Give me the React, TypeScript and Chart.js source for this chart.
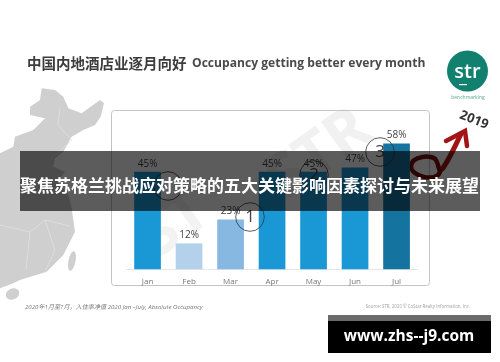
import React, { useEffect, useRef } from "react";
import { Chart, registerables } from "chart.js";

Chart.register(...registerables);

const categories = ["Jan", "Feb", "Mar", "Apr", "May", "Jun", "Jul"];
const occupancy = [45, 12, 23, 45, 45, 47, 58];
const barColors = ["#1a98d5", "#b4d1ec", "#86b8e2", "#1a98d5", "#1a98d5", "#1a98d5", "#14739f"];
const titleCn = "中国内地酒店业逐月向好";
const titleEn = "Occupancy getting better every month";
const banner = "聚焦苏格兰挑战应对策略的五大关键影响因素探讨与未来展望";
const footLeft = "2020年1月至7月，入住率净值 2020 Jan –July, Absolute Occupancy";
const footRight = "Source: STR, 2020 © CoStar Realty Information, Inc.";
const siteLabel = "www.zhs--j9.com";

const CJK = '"Noto Sans CJK SC"';

function poly(ctx: CanvasRenderingContext2D, pts: number[][]) {
  ctx.beginPath();
  pts.forEach((p, i) => (i ? ctx.lineTo(p[0], p[1]) : ctx.moveTo(p[0], p[1])));
  ctx.closePath();
}

function drawMap(ctx: CanvasRenderingContext2D) {
  const raw = [
    [125, 40], [165, 45], [190, 65], [205, 100], [245, 115], [300, 75], [312, 85], [302, 125], [285, 150],
    [250, 165], [215, 185], [190, 230], [165, 250], [160, 275], [195, 290], [172, 320], [205, 360], [215, 400],
    [225, 470], [190, 540], [140, 590], [60, 615], [40, 625], [0, 640], [0, 235], [40, 215], [45, 185],
    [100, 165], [135, 130], [90, 120], [90, 95], [120, 75],
  ].map((p) => [p[0] / 3, 75 + p[1] / 3]);
  ctx.fillStyle = "#cfcfcf";
  poly(ctx, raw);
  ctx.fill();
  ctx.beginPath();
  ctx.ellipse(12.5, 294, 7, 5.5, -0.4, 0, Math.PI * 2);
  ctx.fill();
  ctx.beginPath();
  ctx.ellipse(72, 261, 3.5, 10, 0.2, 0, Math.PI * 2);
  ctx.fill();
  ctx.strokeStyle = "#e2e2e2";
  ctx.lineWidth = 0.7;
  ctx.beginPath();
  ctx.moveTo(60, 108); ctx.lineTo(58, 125); ctx.lineTo(72, 140); ctx.lineTo(50, 160);
  ctx.moveTo(0, 225); ctx.lineTo(30, 232); ctx.lineTo(45, 220); ctx.lineTo(70, 226);
  ctx.moveTo(30, 232); ctx.lineTo(26, 270);
  ctx.moveTo(45, 220); ctx.lineTo(55, 250); ctx.lineTo(45, 272);
  ctx.stroke();
}

function drawWatermark(ctx: CanvasRenderingContext2D) {
  ctx.save();
  ctx.fillStyle = "#f1f1f1";
  ctx.font = 'bold 62px "Open Sans"';
  ctx.textAlign = "center";
  ctx.textBaseline = "middle";
  ctx.translate(320, 155);
  ctx.rotate(-0.62);
  ctx.fillText("STR", 0, 0);
  ctx.restore();
  ctx.save();
  ctx.fillStyle = "#f3f3f3";
  ctx.font = 'bold 62px "Open Sans"';
  ctx.textAlign = "center";
  ctx.textBaseline = "middle";
  ctx.translate(175, 225);
  ctx.rotate(-0.62);
  ctx.fillText("ST", 0, 0);
  ctx.restore();
}

function drawArrow(ctx: CanvasRenderingContext2D) {
  ctx.save();
  ctx.lineCap = "round";
  ctx.strokeStyle = "#7d0d0d";
  ctx.lineWidth = 4.5;
  ctx.beginPath();
  ctx.moveTo(440, 172);
  ctx.bezierCurveTo(436, 183, 410, 176, 411, 166);
  ctx.bezierCurveTo(412, 156, 432, 154, 436, 160);
  ctx.bezierCurveTo(440, 167, 438, 175, 443, 168);
  ctx.stroke();
  ctx.strokeStyle = "#a31414";
  ctx.lineWidth = 5;
  ctx.beginPath();
  ctx.moveTo(443, 168);
  ctx.bezierCurveTo(450, 158, 454, 148, 461, 134);
  ctx.stroke();
  ctx.lineWidth = 4.5;
  ctx.beginPath();
  ctx.moveTo(446, 141);
  ctx.lineTo(465, 131);
  ctx.lineTo(467, 146);
  ctx.stroke();
  ctx.restore();
}

const slidePlugin = {
  id: "slide",
  beforeDraw(chart: Chart) {
    const ctx = chart.ctx;
    ctx.save();
    ctx.filter = "blur(0.6px)";
    ctx.fillStyle = "#ffffff";
    ctx.fillRect(0, 0, 500, 362);
    drawMap(ctx);
    drawWatermark(ctx);
    ctx.strokeStyle = "#c4c4c4";
    ctx.lineWidth = 1;
    ctx.beginPath();
    ctx.roundRect(111.5, 110.5, 318, 175, 3);
    ctx.stroke();

    ctx.textBaseline = "middle";
    ctx.textAlign = "left";
    ctx.fillStyle = "#3c3c3c";
    ctx.font = `bold 14.5px ${CJK}`;
    ctx.fillText(titleCn, 27, 63);
    ctx.fillStyle = "#4a4a4a";
    ctx.font = 'bold 12.1px "Open Sans"';
    ctx.fillText(titleEn, 192, 63.5);

    ctx.fillStyle = "#12806e";
    ctx.beginPath();
    ctx.arc(467.5, 71, 20.5, 0, Math.PI * 2);
    ctx.fill();
    ctx.fillStyle = "#ffffff";
    ctx.textAlign = "center";
    ctx.font = '600 20px "Open Sans"';
    ctx.fillText("str", 467.5, 72);
    ctx.fillRect(459, 84, 8, 1.2);
    ctx.fillStyle = "#5fa597";
    ctx.font = '5px "Open Sans"';
    ctx.fillText("benchmarking", 468, 98);

    ctx.save();
    ctx.translate(474, 120);
    ctx.rotate(0.38);
    ctx.fillStyle = "#333333";
    ctx.font = 'bold 13px "Open Sans"';
    ctx.fillText("2019", 0, 0);
    ctx.restore();
    drawArrow(ctx);

    ctx.textAlign = "left";
    ctx.fillStyle = "#777777";
    ctx.font = `italic 6.1px "Open Sans", ${CJK}`;
    ctx.fillText(footLeft, 25, 307);
    ctx.textAlign = "right";
    ctx.fillStyle = "#a0a0a0";
    ctx.font = '4.4px "Open Sans"';
    ctx.fillText(footRight, 470, 307);
    ctx.restore();
    ctx.filter = "blur(0.6px)";
  },
  afterDraw(chart: Chart) {
    const ctx = chart.ctx;
    ctx.save();
    const meta = chart.getDatasetMeta(0);
    ctx.font = '10px "Open Sans"';
    ctx.fillStyle = "#444444";
    ctx.textAlign = "center";
    ctx.textBaseline = "bottom";
    meta.data.forEach((bar: any, i: number) => {
      ctx.fillText(`${occupancy[i]}%`, bar.x, bar.y - 3);
    });

    ctx.strokeStyle = "#333333";
    ctx.lineWidth = 0.8;
    const rings: [number, number, string][] = [
      [168, 186, ""],
      [250, 217, "1"],
      [314, 175, "2"],
      [380, 152, "3"],
    ];
    ctx.font = '17px "Open Sans"';
    ctx.textBaseline = "middle";
    ctx.fillStyle = "#444444";
    rings.forEach(([x, y, t]) => {
      ctx.beginPath();
      ctx.arc(x, y, 14.3, 0, Math.PI * 2);
      ctx.stroke();
      if (t) ctx.fillText(t, x, y);
    });
    ctx.restore();

    ctx.filter = "none";
    ctx.save();
    ctx.fillStyle = "rgba(0,0,0,0.64)";
    ctx.fillRect(20, 151, 460, 60);
    ctx.fillStyle = "#ffffff";
    ctx.textAlign = "center";
    ctx.textBaseline = "middle";
    ctx.font = `bold 17px ${CJK}`;
    ctx.fillText(banner, 249.5, 186);

    ctx.fillStyle = "#000000";
    ctx.fillRect(328, 321, 163, 32);
    ctx.fillStyle = "#6b6b6b";
    ctx.fillRect(328, 315, 163, 6);
    ctx.fillStyle = "#ffffff";
    ctx.font = 'bold 15.5px "Open Sans"';
    ctx.fillText(siteLabel, 409, 337);
    ctx.restore();
  },
};

export default function App() {
  const ref = useRef<HTMLCanvasElement>(null);
  useEffect(() => {
    document.body.style.margin = "0";
    const chart = new Chart(ref.current!, {
      type: "bar",
      data: {
        labels: categories,
        datasets: [
          {
            data: occupancy,
            backgroundColor: barColors,
            categoryPercentage: 1,
            barPercentage: 0.643,
          },
        ],
      },
      options: {
        responsive: false,
        animation: false,
        layout: { padding: { left: 126.8, right: 82.7, top: 139.2, bottom: 75 } },
        plugins: { legend: { display: false }, title: { display: false }, tooltip: { enabled: false } },
        scales: {
          y: { display: false, min: 0, max: 60 },
          x: {
            grid: { display: false },
            border: { color: "#e6e6e6" },
            ticks: { color: "#777777", font: { family: "Open Sans", size: 8 }, padding: 0, maxRotation: 0 },
          },
        },
      },
      plugins: [slidePlugin],
    });
    return () => chart.destroy();
  }, []);
  return <canvas ref={ref} width={500} height={362} style={{ display: "block" }} />;
}
